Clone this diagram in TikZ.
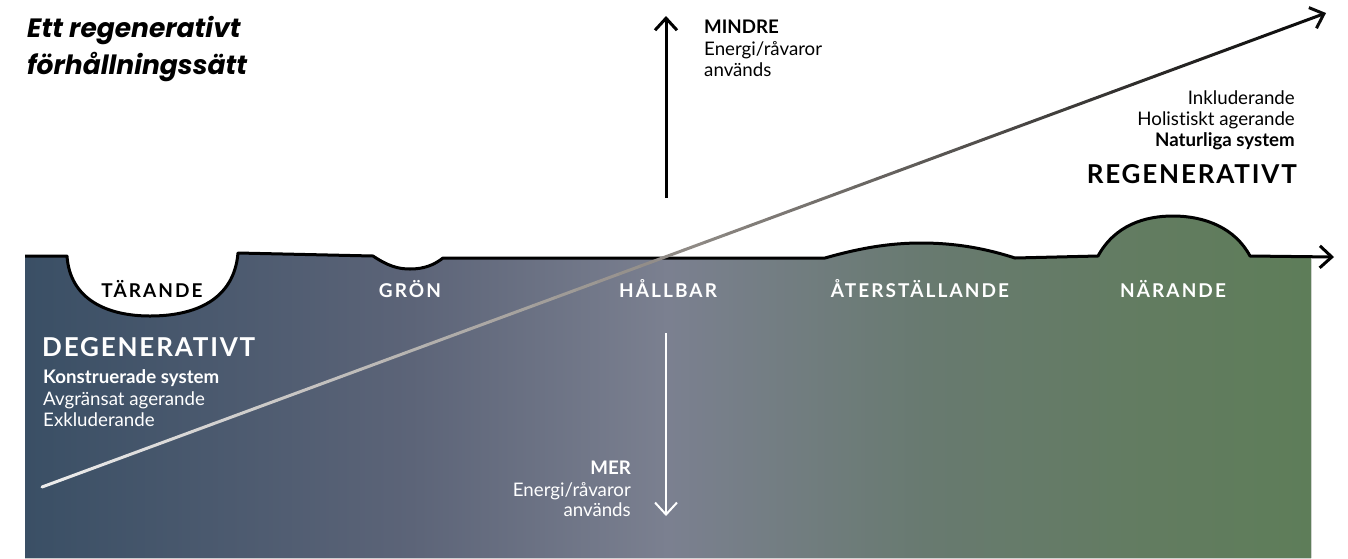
\documentclass[tikz,border=0pt]{standalone}
\usepackage{fontspec}
\setmainfont{Lato}[Ligatures={NoCommon,NoRare}]
\newfontfamily\titlefont{Poppins}
\usetikzlibrary{arrows.meta,calc}

\definecolor{c0}{HTML}{3A4F65}
\definecolor{c1}{HTML}{5C6478}
\definecolor{c2}{HTML}{7B8090}
\definecolor{c3}{HTML}{687A70}
\definecolor{c4}{HTML}{627C60}
\definecolor{c5}{HTML}{5E7D59}
\definecolor{wg}{HTML}{8F8A85}
\definecolor{lw}{HTML}{ECECEC}

\pgfdeclarehorizontalshading{panelshade}{100bp}{color(0bp)=(c0); color(25bp)=(c0); color(40bp)=(c1); color(50bp)=(c2); color(60bp)=(c3); color(69bp)=(c4); color(75bp)=(c5); color(100bp)=(c5)}

\newcommand\myprofile{(25,256) -- (67,256)
 .. controls (70,300) and (108,316) .. (150,316)
 .. controls (195,316) and (234,300) .. (238,253)
 -- (373,256)
 .. controls (388,266) and (398,269) .. (410,269)
 .. controls (424,269) and (434,265) .. (443,258)
 -- (825,258)
 .. controls (860,248) and (890,243) .. (921,243)
 .. controls (960,243) and (990,250) .. (1015,258)
 -- (1098,256)
 .. controls (1115,225) and (1145,216) .. (1173,216)
 .. controls (1205,216) and (1235,228) .. (1250,256)}

\tikzset{
 body/.style={font=\fontsize{18.7}{21}\selectfont, inner sep=0pt},
 bodyb/.style={font=\fontsize{18.7}{21}\selectfont\bfseries, inner sep=0pt},
 caplabel/.style={font=\fontsize{19}{21}\selectfont\bfseries\addfontfeature{LetterSpace=11}, inner sep=0pt, anchor=base},
 biglabel/.style={font=\fontsize{26}{28}\selectfont\bfseries\addfontfeature{LetterSpace=7}, inner sep=0pt},
 ttl/.style={font=\titlefont\fontsize{26.5}{37}\selectfont\bfseries\itshape, inner sep=0pt, anchor=base west},
 prof/.style={line width=3pt, black, line join=round},
 barb/.style={-{Straight Barb[length=12pt,width=22pt]}},
}

\begin{document}
\begin{tikzpicture}[x=1pt,y=-1pt]
\useasboundingbox (0,0) rectangle (1348,558);

% panel
\fill[shading=panelshade] (25,558) -- \myprofile -- (1311,257) -- (1311,558) -- cycle;
\draw[prof, barb] \myprofile -- (1334,257);

% title
\node[ttl] (title1) at (27,37) {Ett regenerativt};
\node[ttl] (title2) at (27,74) {förhållningssätt};

% up arrow
\coordinate (upS) at (666,198);
\coordinate (upE) at (666,16);
\draw[line width=3pt, black, barb] (upS) -- (upE);
\node[bodyb, anchor=base west] (mindre) at (704,33) {MINDRE};
\node[body, anchor=base west] (mindre2) at (704,55) {Energi/råvaror};
\node[body, anchor=base west] (mindre3) at (704,76) {används};

% down arrow
\coordinate (dnS) at (666,333);
\coordinate (dnE) at (666,516);
\draw[line width=2pt, white, barb] (dnS) -- (dnE);
\node[bodyb, white, anchor=base east] (mer) at (631,474) {MER};
\node[body, white, anchor=base east] (mer2) at (631,496) {Energi/råvaror};
\node[body, white, anchor=base east] (mer3) at (631,516) {används};

% stage labels
\node[caplabel, black] (tar) at (152,297) {TÄRANDE};
\node[caplabel, white] (gron) at (410,297) {GRÖN};
\node[caplabel, white] (hall) at (668,297) {HÅLLBAR};
\node[caplabel, white] (ater) at (920,297) {ÅTERSTÄLLANDE};
\node[caplabel, white] (nar) at (1173,297) {NÄRANDE};

% degenerativt block
\node[biglabel, white, anchor=base west] (deg) at (42,356) {DEGENERATIVT};
\node[bodyb, white, anchor=base west] (deg1) at (43,383) {Konstruerade system};
\node[body, white, anchor=base west] (deg2) at (43,405) {Avgränsat agerande};
\node[body, white, anchor=base west] (deg3) at (43,426) {Exkluderande};

% regenerativt block
\node[body, anchor=base east] (reg3) at (1295,104) {Inkluderande};
\node[body, anchor=base east] (reg2) at (1295,125) {Holistiskt agerande};
\node[bodyb, anchor=base east] (reg1) at (1295,146) {Naturliga system};
\node[biglabel, anchor=base east] (reg) at (1297,183) {REGENERATIVT};

% diagonal gradient arrow
\coordinate (dA) at (42,487);
\coordinate (dB) at (1326,13);
\foreach \i in {0,...,29} {
  \pgfmathsetmacro{\p}{\i/29*100}
  \draw[line width=3pt, line cap=round, color=wg!\p!lw]
    ($(dA)!{\i/60}!(dB)$) -- ($(dA)!{(\i+1)/60}!(dB)$);
}
\foreach \i in {30,...,58} {
  \pgfmathsetmacro{\p}{(\i-30)/28*90}
  \draw[line width=3pt, line cap=round, color=black!\p!wg]
    ($(dA)!{\i/60}!(dB)$) -- ($(dA)!{(\i+1)/60}!(dB)$);
}
\draw[line width=3pt, black!92!wg, barb] ($(dA)!{59/60}!(dB)$) -- (dB);
\end{tikzpicture}
\end{document}
